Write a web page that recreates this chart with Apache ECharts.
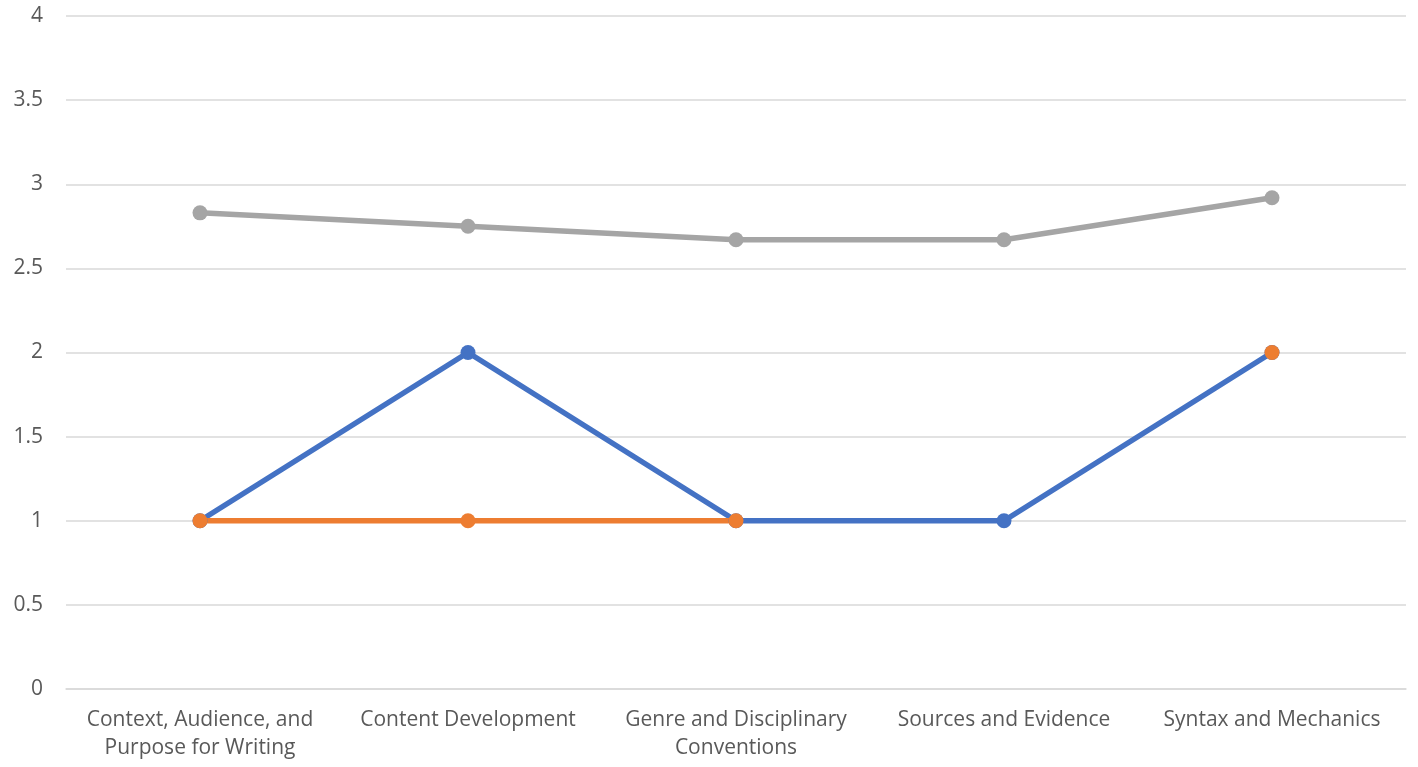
<!DOCTYPE html>
<html><head><meta charset="utf-8">
<script src="https://cdn.jsdelivr.net/npm/echarts@6/dist/echarts.min.js"></script>
<style>html,body{margin:0;padding:0;background:#fff}#c{width:1418px;height:767px}</style>
</head><body><div id="c"></div>
<script>
const categories = ["Context, Audience, and\nPurpose for Writing", "Content Development", "Genre and Disciplinary\nConventions", "Sources and Evidence", "Syntax and Mechanics"];
const seriesBlue = [1, 2, 1, 1, 2];
const seriesOrange = [1, 1, 1, null, 2];
const seriesGray = [2.83, 2.75, 2.67, 2.67, 2.92];
const yTicks = [0, 0.5, 1, 1.5, 2, 2.5, 3, 3.5, 4];

const font = "'Open Sans', 'Noto Sans', sans-serif";
const chart = echarts.init(document.getElementById('c'));
function mk(name, data, color) {
  return {
    name, type: 'line', data, connectNulls: false,
    symbol: 'circle', symbolSize: 15,
    lineStyle: { color, width: 5.5 },
    itemStyle: { color },
    animation: false
  };
}
chart.setOption({
  animation: false,
  grid: { left: 66, right: 12, top: 16, bottom: 78, containLabel: false },
  xAxis: {
    type: 'category', data: categories, boundaryGap: true,
    axisLine: { lineStyle: { color: '#d9d9d9', width: 1.5 } },
    axisTick: { show: false },
    axisLabel: { color: '#595959', fontFamily: font, fontSize: 21, lineHeight: 28, margin: 17, interval: 0 }
  },
  yAxis: {
    type: 'value', min: yTicks[0], max: yTicks[yTicks.length - 1], interval: 0.5,
    axisLine: { show: false }, axisTick: { show: false },
    splitLine: { lineStyle: { color: '#d9d9d9', width: 1.5 } },
    axisLabel: { color: '#595959', fontFamily: font, fontSize: 21, margin: 23 }
  },
  series: [
    mk('Series 1', seriesBlue, '#4472C4'),
    mk('Series 2', seriesOrange, '#ED7D31'),
    mk('Series 3', seriesGray, '#A5A5A5')
  ]
});
</script></body></html>
